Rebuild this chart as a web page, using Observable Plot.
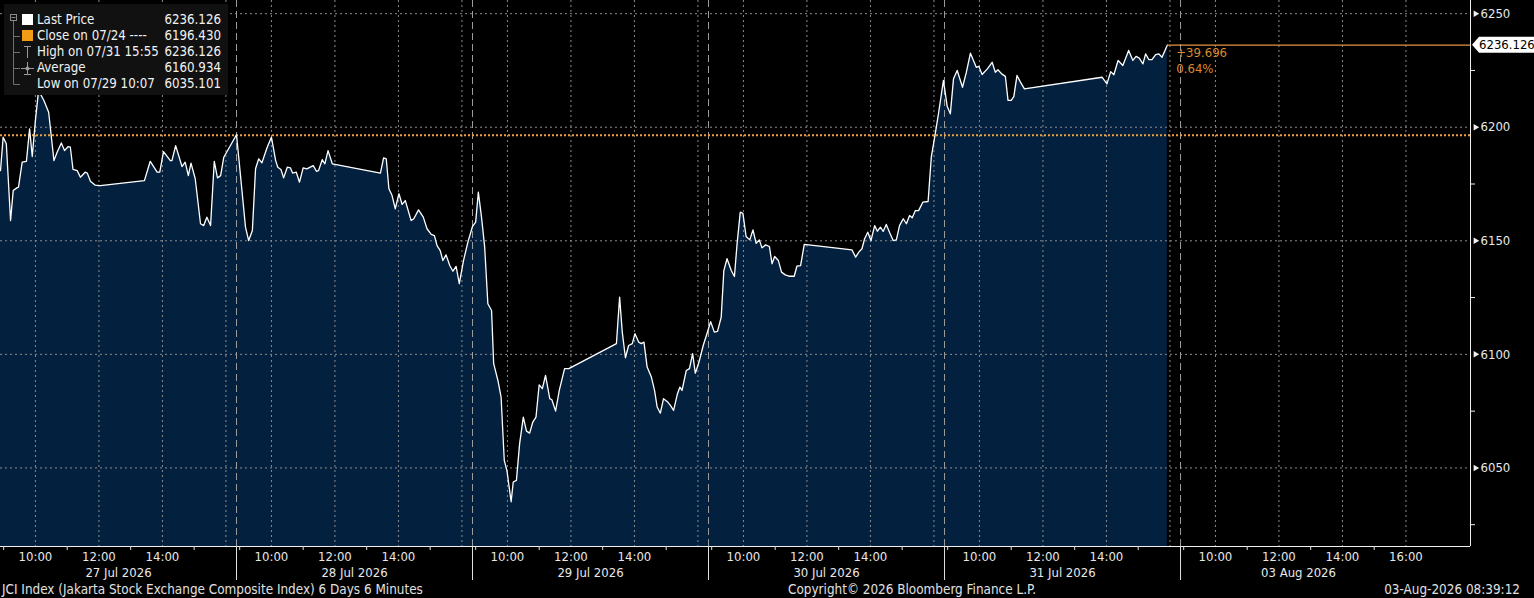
<!DOCTYPE html>
<html>
<head>
<meta charset="utf-8">
<script src="https://cdn.jsdelivr.net/npm/d3@7"></script>
<script src="https://cdn.jsdelivr.net/npm/@observablehq/plot@0.6"></script>
<style>
html,body{margin:0;padding:0;background:#000;}
body{width:1534px;height:598px;overflow:hidden;position:relative;font-family:"DejaVu Sans Condensed","DejaVu Sans",sans-serif;color:#e6e6e6;}
#chart{position:absolute;left:0;top:0;}
#legend{position:absolute;left:4px;top:4px;width:224px;height:91px;background:#111;}
#legend svg{position:absolute;left:-4px;top:-4px;}
.lrow{position:absolute;height:16px;line-height:16px;font-size:13.2px;white-space:nowrap;color:#f2f2f2;}
#footer{position:absolute;left:0;top:581px;width:1534px;height:17px;font-size:13.4px;line-height:17px;color:#e0e0e0;}
#footer span{position:absolute;top:0;white-space:nowrap;}
</style>
</head>
<body>
<div id="chart"></div>
<div id="legend"></div>
<div id="footer"></div>
<script>
// ---------- data ----------
const dayLabels = ["27 Jul 2026", "28 Jul 2026", "29 Jul 2026", "30 Jul 2026", "31 Jul 2026", "03 Aug 2026"];

const jul27Times = ["08:54","08:59","09:05","09:13","09:18","09:25","09:28","09:35","09:43","09:49","09:54","10:00","10:06","10:16","10:25","10:35","10:41","10:49","10:55","11:02","11:06","11:11","11:19","11:25","11:34","11:38","11:44","11:53","12:03","13:26","13:37","13:50","13:55","14:02","14:15","14:18","14:25","14:37","14:43","14:49","14:54","15:02","15:12","15:18","15:24","15:31","15:38","15:44","15:50","15:56","16:20"];
const jul27Values = [6180.9,6195.6,6192.7,6158.9,6172.1,6173.3,6173.6,6184.6,6185.0,6199.3,6187.1,6203.0,6216.2,6211.8,6206.6,6185.3,6189.0,6193.1,6189.7,6191.5,6191.2,6181.4,6180.9,6178.0,6180.2,6179.8,6176.2,6174.5,6174.3,6176.5,6185.0,6180.2,6180.2,6189.3,6185.3,6185.3,6191.9,6182.7,6184.6,6178.7,6184.2,6177.3,6157.5,6156.7,6160.4,6156.7,6185.0,6177.7,6178.7,6186.8,6196.7];

const jul28Times = ["09:01","09:11","09:17","09:24","09:30","09:36","09:42","09:52","10:00","10:08","10:12","10:18","10:23","10:30","10:36","10:40","10:47","10:53","11:00","11:07","11:19","11:25","11:29","11:36","11:41","11:47","11:55","13:26","13:32","13:37","13:42","13:48","13:54","14:01","14:07","14:13","14:24","14:29","14:38","14:47","14:54","15:02","15:08","15:13","15:19","15:24","15:30","15:37","15:43","15:49","15:55","16:03","16:12"];
const jul28Values = [6180.0,6156.0,6150.1,6154.5,6181.7,6186.1,6184.3,6191.2,6195.6,6185.3,6182.4,6181.4,6177.7,6182.4,6182.1,6179.8,6180.2,6175.8,6182.1,6181.7,6183.1,6180.6,6180.9,6185.7,6183.9,6189.7,6183.9,6179.8,6186.5,6186.1,6172.9,6169.9,6164.1,6170.7,6166.0,6167.7,6158.9,6159.7,6163.6,6160.4,6155.3,6152.8,6152.3,6147.9,6145.7,6141.3,6143.8,6139.1,6136.6,6138.7,6131.1,6141.3,6150.1];

const jul29Times = ["08:54","09:00","09:05","09:11","09:17","09:23","09:30","09:34","09:42","09:48","09:54","09:59","10:07","10:11","10:17","10:23","10:30","10:36","10:42","10:48","10:54","11:00","11:06","11:12","11:20","11:24","11:31","11:38","11:48","11:56","13:26","13:32","13:37","13:43","13:49","13:56","14:01","14:08","14:13","14:18","14:24","14:32","14:38","14:43","14:49","14:55","15:03","15:08","15:14","15:21","15:26","15:30","15:38","15:44","15:50","15:55","16:02","16:10","16:17"];
const jul29Values = [6156.3,6158.2,6171.4,6160.4,6147.2,6122.3,6119.3,6095.9,6088.5,6081.2,6053.3,6048.9,6035.101,6043.8,6044.5,6060.6,6072.4,6066.2,6065.3,6070.2,6072.4,6086.6,6084.9,6090.7,6080.5,6080.0,6075.0,6084.1,6093.7,6093.7,6104.7,6125.2,6109.8,6098.5,6103.9,6104.7,6109.1,6105.4,6104.7,6105.4,6094.4,6090.0,6084.1,6076.8,6074.1,6080.5,6079.0,6077.5,6075.3,6082.4,6085.6,6084.1,6092.9,6093.7,6100.3,6091.7,6096.6,6103.9,6109.1];

const jul30Times = ["08:58","09:05","09:11","09:18","09:23","09:29","09:37","09:43","09:48","09:54","09:59","10:05","10:12","10:18","10:24","10:30","10:35","10:42","10:49","10:54","10:59","11:06","11:12","11:19","11:26","11:36","11:41","11:48","11:55","13:25","13:32","13:38","13:44","13:49","13:55","14:01","14:08","14:13","14:19","14:24","14:30","14:36","14:43","14:49","14:55","15:02","15:08","15:14","15:19","15:25","15:31","15:39","15:49","15:55","16:03","16:09","16:18"];
const jul30Values = [6114.4,6109.8,6110.1,6116.4,6136.9,6142.1,6136.9,6134.3,6148.7,6162.6,6162.1,6151.9,6150.4,6154.8,6148.9,6150.4,6146.9,6148.2,6147.5,6139.9,6143.1,6141.3,6136.2,6135.0,6134.4,6134.4,6138.8,6139.1,6148.4,6146.0,6142.8,6145.0,6146.5,6150.9,6153.8,6150.1,6156.7,6154.2,6156.0,6154.1,6157.2,6153.8,6150.1,6150.4,6156.7,6159.7,6157.5,6161.1,6160.1,6163.3,6163.3,6167.0,6167.3,6186.8,6197.8,6206.6,6220.6];

const jul31Times = ["08:59","09:05","09:11","09:18","09:28","09:35","09:43","09:54","09:59","10:05","10:15","10:24","10:30","10:35","10:42","10:49","10:54","11:00","11:05","11:11","11:17","11:25","13:52","14:01","14:08","14:14","14:22","14:31","14:42","14:50","14:56","15:02","15:09","15:14","15:20","15:26","15:33","15:39","15:45","15:55"];
const jul31Values = [6209.2,6205.9,6221.3,6225.0,6217.6,6223.9,6232.6,6226.4,6226.8,6223.2,6225.7,6228.6,6224.2,6225.3,6223.5,6222.4,6211.8,6211.8,6213.5,6222.8,6220.1,6216.9,6222.0,6219.1,6224.5,6223.1,6229.4,6227.2,6233.8,6229.4,6231.2,6230.4,6227.9,6232.3,6229.8,6229.8,6232.0,6232.3,6230.8,6236.126];

const labeledHours = [10, 12, 14];
const lastDayLabeledHours = [10, 12, 14, 16];
const gridHours = [10, 12, 14, 16];
const minorHours = [9, 11, 13, 15];

const yTicks = [6050, 6100, 6150, 6200, 6250];
const yMinorTicks = [6025, 6075, 6125, 6175, 6225];

const lastPrice = 6236.126;
const closePrice = 6196.430;
const netChange = "+39.696";
const pctChange = "0.64%";

const legendLabels = ["Last Price", "Close on 07/24 ----", "High on 07/31 15:55", "Average", "Low on 07/29 10:07"];
const legendValues = ["6236.126", "6196.430", "6236.126", "6160.934", "6035.101"];

const footerLeft = "JCI Index (Jakarta Stock Exchange Composite Index) 6 Days 6 Minutes";
const footerCenter = "Copyright\u00A9 2026 Bloomberg Finance L.P.";
const footerRight = "03-Aug-2026 08:39:12";

// ---------- trading-time axis (compressed sessions) ----------
const sessionOpen = 8 + 54 / 60;     // session slot starts 08:54
const sessionLength = 7 + 26 / 60;   // each day slot spans 7h26m
const axisEndHour = 18 + 2 / 60;     // last day's axis runs to ~18:02
const xEnd = 5 * sessionLength + (axisEndHour - sessionOpen);
const toT = (d, hours) => d * sessionLength + (hours - sessionOpen);
const parseHM = s => { const [h, m] = s.split(":").map(Number); return h + m / 60; };

const dayTimes = [jul27Times, jul28Times, jul29Times, jul30Times, jul31Times];
const dayValues = [jul27Values, jul28Values, jul29Values, jul30Values, jul31Values];
const series = dayTimes.flatMap((times, d) => times.map((s, i) => ({t: toT(d, parseHM(s)), v: dayValues[d][i]})));
const lastT = series[series.length - 1].t;

const hourText = h => String(h).padStart(2, "0") + ":00";
const hourLabelData = dayLabels.flatMap((_, d) =>
  (d === dayLabels.length - 1 ? lastDayLabeledHours : labeledHours).map(h => ({t: toT(d, h), label: hourText(h)})));
const dayLabelData = dayLabels.map((label, d) => ({t: d * sessionLength + sessionLength / 2, label}));
const gridTs = dayLabels.flatMap((_, d) => gridHours.map(h => toT(d, h)));
const minorTs = dayLabels.flatMap((_, d) => minorHours.map(h => toT(d, h)));
const sepTs = dayLabels.slice(1).map((_, i) => (i + 1) * sessionLength);

const yDomain = [6015.4, 6255.8];
const FONT = '"DejaVu Sans Condensed","DejaVu Sans",sans-serif';
const ORANGE_DOT = "#f4a03a";
const ORANGE_LINE = "#e39540";
const ORANGE_TEXT = "#d98b2e";

function lastPriceTag(index, scales, values, dimensions) {
  const y = scales.y(lastPrice);
  const x0 = dimensions.width - dimensions.marginRight;
  const g = d3.create("svg:g");
  g.append("path")
    .attr("d", `M${x0 + 2},${y} L${x0 + 9},${y - 8} H${dimensions.width} V${y + 8} H${x0 + 9} Z`)
    .attr("fill", "#fff");
  g.append("text")
    .attr("x", x0 + 9).attr("y", y).attr("dy", "0.36em")
    .attr("text-anchor", "start")
    .attr("fill", "#000").attr("font-size", 13).attr("font-family", FONT)
    .text(lastPrice.toFixed(3));
  return g.node();
}

const chart = Plot.plot({
  width: 1534,
  height: 580,
  marginTop: 0,
  marginRight: 64,
  marginBottom: 34,
  marginLeft: 0,
  style: {background: "#000", color: "#e8e8e8", fontFamily: FONT, fontSize: "13px", overflow: "visible"},
  x: {domain: [0, xEnd], axis: null, label: null},
  y: {domain: yDomain, axis: null, label: null},
  marks: [
    Plot.areaY(series, {x: "t", y1: yDomain[0], y2: "v", fill: "#03203e"}),
    Plot.ruleY(yTicks, {stroke: "#8c8c8c", strokeDasharray: "2,3"}),
    Plot.ruleX(gridTs, {stroke: "#8c8c8c", strokeDasharray: "2,3"}),
    Plot.ruleX(sepTs, {stroke: "#9c9c9c", strokeDasharray: "7,4"}),
    Plot.ruleY([closePrice], {stroke: ORANGE_DOT, strokeWidth: 2, strokeDasharray: "2,2"}),
    Plot.line(series, {x: "t", y: "v", stroke: "#ffffff", strokeWidth: 1.3}),
    Plot.ruleY([lastPrice], {x1: lastT, x2: xEnd, stroke: ORANGE_LINE, strokeWidth: 1.2}),
    Plot.text([netChange], {x: lastT, y: lastPrice, text: d => d, dx: 9, dy: 8, textAnchor: "start", fill: ORANGE_TEXT, fontSize: 13}),
    Plot.text([pctChange], {x: lastT, y: lastPrice, text: d => d, dx: 9, dy: 24, textAnchor: "start", fill: ORANGE_TEXT, fontSize: 13}),
    // axes frame
    Plot.ruleY([yDomain[0]], {stroke: "#f0f0f0"}),
    Plot.ruleX([xEnd], {stroke: "#f0f0f0"}),
    // x axis
    Plot.axisX(minorTs, {tickSize: 4, fill: "none", stroke: "#e0e0e0", label: null}),
    Plot.axisX(sepTs, {tickSize: 34, fill: "none", stroke: "#e0e0e0", label: null}),
    Plot.text(hourLabelData, {x: "t", text: "label", frameAnchor: "bottom", dy: 14, fill: "#e8e8e8", fontSize: 13}),
    Plot.text(dayLabelData, {x: "t", text: "label", frameAnchor: "bottom", dy: 30, fill: "#e8e8e8", fontSize: 13}),
    // y axis
    Plot.axisY(yMinorTicks, {anchor: "right", tickSize: 4, fill: "none", stroke: "#f0f0f0", label: null}),
    Plot.axisY(yTicks, {anchor: "right", tickSize: 0, tickPadding: 10, tickFormat: d => String(d), fill: "#e8e8e8", fontSize: 13, label: null}),
    Plot.dot(yTicks, {y: d => d, frameAnchor: "right", symbol: "triangle", rotate: 90, r: 2.4, fill: "#f0f0f0", stroke: null, dx: 5}),
    lastPriceTag
  ]
});
document.getElementById("chart").appendChild(chart);

// ---------- legend (top-left box) ----------
const legend = document.getElementById("legend");
const rowY = [20, 36, 52, 68, 84];
const icons = `
<svg width="232" height="100" xmlns="http://www.w3.org/2000/svg">
  <rect x="10.5" y="14.5" width="6" height="6" fill="none" stroke="#8a8a8a"/>
  <line x1="11.5" y1="17.5" x2="15.5" y2="17.5" stroke="#8a8a8a"/>
  <line x1="13.5" y1="21" x2="13.5" y2="84.5" stroke="#6f6f6f"/>
  ${rowY.slice(1).map(y => `<line x1="13.5" y1="${y + 0.5}" x2="20" y2="${y + 0.5}" stroke="#6f6f6f"/>`).join("")}
  <rect x="22" y="14" width="11" height="11" fill="#ffffff"/>
  <rect x="22" y="30" width="11" height="11" fill="#f39a17"/>
  <line x1="24" y1="46.5" x2="31" y2="46.5" stroke="#9a9a9a"/>
  <line x1="27.5" y1="46.5" x2="27.5" y2="58" stroke="#9a9a9a"/>
  <line x1="21" y1="68.5" x2="34" y2="68.5" stroke="#9a9a9a"/>
  <circle cx="27.5" cy="68.5" r="2" fill="#9a9a9a"/>
  <line x1="27.5" y1="62" x2="27.5" y2="74" stroke="#9a9a9a"/>
  <line x1="24" y1="74.5" x2="31" y2="74.5" stroke="#9a9a9a"/>
</svg>`;
legend.innerHTML = icons;
legendLabels.forEach((label, i) => {
  const l = document.createElement("div");
  l.className = "lrow";
  l.style.left = (37 - 4) + "px";
  l.style.top = (rowY[i] - 8 - 4) + "px";
  l.textContent = label;
  legend.appendChild(l);
  const v = document.createElement("div");
  v.className = "lrow";
  v.style.right = (228 - 221) + "px";
  v.style.top = (rowY[i] - 8 - 4) + "px";
  v.textContent = legendValues[i];
  legend.appendChild(v);
});

// ---------- footer ----------
const footer = document.getElementById("footer");
const fl = document.createElement("span"); fl.style.left = "2px"; fl.textContent = footerLeft;
const fc = document.createElement("span"); fc.style.left = "912px"; fc.style.transform = "translateX(-50%)"; fc.textContent = footerCenter;
const fr = document.createElement("span"); fr.style.right = "14px"; fr.textContent = footerRight;
footer.append(fl, fc, fr);
</script>
</body>
</html>
